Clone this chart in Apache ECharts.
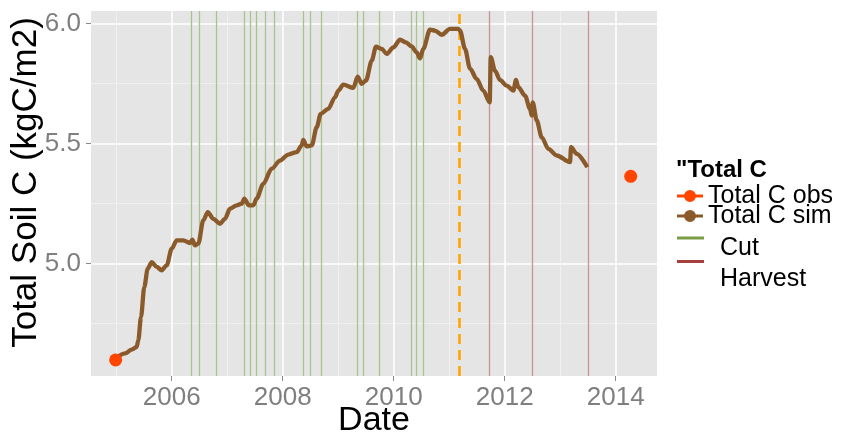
<!DOCTYPE html>
<html>
<head>
<meta charset="utf-8">
<script src="https://cdn.jsdelivr.net/npm/echarts@6/dist/echarts.min.js"></script>
<style>
html,body{margin:0;padding:0;background:#fff;}
#c{width:845px;height:432px;}
</style>
</head>
<body>
<div id="c"></div>
<script>
// ---- data (decimal years) ----
var simYears = [2004.978, 2005.159, 2005.279, 2005.369, 2005.398, 2005.447, 2005.506, 2005.568, 2005.640, 2005.730, 2005.820, 2005.910, 2006.000, 2006.090, 2006.209, 2006.330, 2006.371, 2006.420, 2006.479, 2006.569, 2006.649, 2006.750, 2006.870, 2006.960, 2007.050, 2007.171, 2007.261, 2007.308, 2007.393, 2007.470, 2007.532, 2007.650, 2007.802, 2007.951, 2008.101, 2008.252, 2008.342, 2008.371, 2008.432, 2008.523, 2008.613, 2008.685, 2008.822, 2008.942, 2009.002, 2009.092, 2009.272, 2009.351, 2009.423, 2009.501, 2009.604, 2009.681, 2009.784, 2009.874, 2009.993, 2010.114, 2010.222, 2010.324, 2010.414, 2010.474, 2010.533, 2010.654, 2010.744, 2010.865, 2011.014, 2011.164, 2011.195, 2011.285, 2011.375, 2011.495, 2011.614, 2011.730, 2011.748, 2011.825, 2011.915, 2012.036, 2012.155, 2012.204, 2012.245, 2012.366, 2012.456, 2012.486, 2012.505, 2012.577, 2012.667, 2012.786, 2012.937, 2013.177, 2013.195, 2013.297, 2013.488];
var simValues = [4.600, 4.624, 4.640, 4.651, 4.679, 4.776, 4.901, 4.978, 5.005, 4.985, 4.971, 4.992, 5.061, 5.096, 5.096, 5.085, 5.099, 5.075, 5.082, 5.179, 5.214, 5.186, 5.165, 5.186, 5.228, 5.242, 5.249, 5.270, 5.242, 5.242, 5.271, 5.332, 5.395, 5.429, 5.454, 5.464, 5.492, 5.515, 5.488, 5.492, 5.568, 5.624, 5.645, 5.693, 5.721, 5.746, 5.732, 5.779, 5.749, 5.763, 5.846, 5.904, 5.895, 5.874, 5.901, 5.933, 5.922, 5.905, 5.880, 5.855, 5.895, 5.975, 5.971, 5.954, 5.978, 5.978, 5.971, 5.895, 5.8125, 5.770, 5.721, 5.672, 5.860, 5.804, 5.765, 5.742, 5.721, 5.765, 5.735, 5.700, 5.645, 5.617, 5.672, 5.596, 5.526, 5.478, 5.450, 5.422, 5.485, 5.457, 5.401];
var obsYears = [2004.99, 2014.27];
var obsValues = [4.597, 5.363];
var cutDates = [2006.36, 2006.50, 2006.80, 2007.30, 2007.42, 2007.52, 2007.68, 2007.85, 2008.37, 2008.49, 2008.69, 2009.35, 2009.46, 2009.74, 2010.31, 2010.41, 2010.53];
var harvestDates = [2011.73, 2012.49, 2013.51];
var spinupEnd = [2011.19];
var xMajorTicks = [2006, 2008, 2010, 2012, 2014];
var xMinorTicks = [2005, 2007, 2009, 2011, 2013];
var yMajorTicks = [5.0, 5.5, 6.0];
var yMinorTicks = [4.75, 5.25, 5.75];

function zip(a, b) { return a.map(function (v, i) { return [v, b[i]]; }); }
function vlines(arr) { return arr.map(function (v) { return { xAxis: v }; }); }

var FONT = '"Liberation Sans", Arial, sans-serif';
var XMIN = 2004.546, XMAX = 2014.744, YMIN = 4.53, YMAX = 6.053;
var lineIcon = 'path://M0,4.5H26V7.5H0Z M19,6A6,6 0 1,1 7,6A6,6 0 1,1 19,6Z';

var chart = echarts.init(document.getElementById('c'), null, { renderer: 'canvas' });
chart.setOption({
  animation: false,
  backgroundColor: '#ffffff',
  textStyle: { fontFamily: FONT },
  grid: { left: 91, top: 11, right: 188, bottom: 56, show: true, backgroundColor: '#E5E5E5', borderWidth: 0,
    containLabel: false, outerBoundsMode: 'none' },
  xAxis: [{
    type: 'value', min: XMIN, max: XMAX,
    name: 'Date', nameLocation: 'middle', nameGap: 28, nameMoveOverlap: false,
    nameTextStyle: { fontSize: 34, color: '#000', fontFamily: FONT },
    axisLine: { show: false },
    axisTick: { show: true, length: 5, customValues: xMajorTicks, lineStyle: { color: '#888', width: 1 } },
    axisLabel: { customValues: xMajorTicks, fontSize: 26, color: '#7F7F7F', margin: 9, fontFamily: FONT,
      formatter: function (v) { return String(Math.round(v)); } },
    splitLine: { show: true, lineStyle: { color: '#ffffff', width: 1.5 } }
  }, {
    type: 'value', min: XMIN, max: XMAX, position: 'bottom',
    axisLine: { show: false },
    axisTick: { show: false, customValues: xMinorTicks },
    axisLabel: { show: false, customValues: xMinorTicks },
    splitLine: { show: true, lineStyle: { color: '#F2F2F2', width: 0.8 } }
  }],
  yAxis: [{
    type: 'value', min: YMIN, max: YMAX,
    name: 'Total Soil C (kgC/m2)', nameLocation: 'middle', nameGap: 47, nameMoveOverlap: false,
    nameTextStyle: { fontSize: 35, color: '#000', fontFamily: FONT, padding: [0, 0, 0, 22] },
    axisLine: { show: false },
    axisTick: { show: true, length: 5, customValues: yMajorTicks, lineStyle: { color: '#888', width: 1 } },
    axisLabel: { customValues: yMajorTicks, fontSize: 26, color: '#7F7F7F', margin: 10, fontFamily: FONT,
      formatter: function (v) { return v.toFixed(1); } },
    splitLine: { show: true, lineStyle: { color: '#ffffff', width: 1.5 } }
  }, {
    type: 'value', min: YMIN, max: YMAX, position: 'left',
    axisLine: { show: false },
    axisTick: { show: false, customValues: yMinorTicks },
    axisLabel: { show: false, customValues: yMinorTicks },
    splitLine: { show: true, lineStyle: { color: '#F2F2F2', width: 0.8 } }
  }],
  legend: [{
    left: 677, top: 183.5, orient: 'vertical', padding: 0, itemGap: -5,
    selectedMode: false, itemWidth: 26, itemHeight: 12,
    textStyle: { fontSize: 25, color: '#000', fontFamily: FONT },
    data: [{ name: 'Total C obs', icon: lineIcon }, { name: 'Total C sim', icon: lineIcon }]
  }, {
    left: 677, top: 236, orient: 'vertical', padding: 0,
    selectedMode: false, itemWidth: 27, itemHeight: 3,
    formatter: '{t|{name}}',
    textStyle: { color: '#000', fontFamily: FONT,
      rich: { t: { fontSize: 25, color: '#000', fontFamily: FONT, padding: [21, 0, 0, 11] } } },
    data: [{ name: 'Cut', icon: 'rect' }]
  }, {
    left: 677, top: 260, orient: 'vertical', padding: 0,
    selectedMode: false, itemWidth: 27, itemHeight: 3,
    formatter: '{t|{name}}',
    textStyle: { color: '#000', fontFamily: FONT,
      rich: { t: { fontSize: 25, color: '#000', fontFamily: FONT, padding: [36, 0, 0, 11] } } },
    data: [{ name: 'Harvest', icon: 'rect' }]
  }],
  graphic: [{
    type: 'text', left: 676, top: 158,
    style: { text: '"Total C', font: 'bold 24px ' + FONT, fill: '#000' }
  }],
  series: [{
    name: 'Cut', type: 'line', data: [], color: '#7A9C45',
    markLine: { silent: true, symbol: 'none', label: { show: false },
      lineStyle: { color: '#A7C48F', width: 1.3, type: 'solid' }, data: vlines(cutDates) }
  }, {
    name: 'Harvest', type: 'line', data: [], color: '#A5403D',
    markLine: { silent: true, symbol: 'none', label: { show: false },
      lineStyle: { color: '#C99494', width: 1.3, type: 'solid' }, data: vlines(harvestDates) }
  }, {
    name: 'spinup', type: 'line', data: [], color: '#FFA500',
    markLine: { silent: true, symbol: 'none', label: { show: false },
      lineStyle: { color: '#FFA500', width: 2.6, type: [10, 6] }, data: vlines(spinupEnd) }
  }, {
    name: 'Total C sim', type: 'line', data: zip(simYears, simValues),
    color: '#8B5A2B', showSymbol: false, smooth: 0.3, smoothMonotone: 'x',
    lineStyle: { width: 4.3, color: '#8B5A2B' }, z: 5
  }, {
    name: 'Total C obs', type: 'scatter', data: zip(obsYears, obsValues),
    color: '#FF4500', symbolSize: 13, itemStyle: { opacity: 1 }, z: 6
  }]
});
</script>
</body>
</html>
